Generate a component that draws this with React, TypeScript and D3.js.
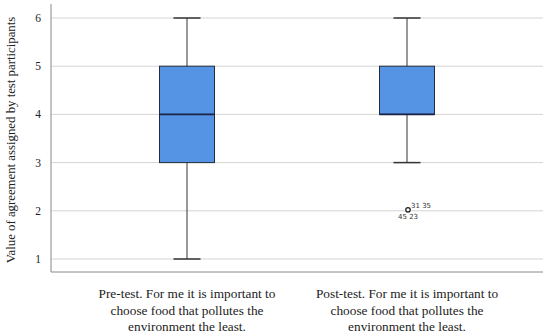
import React from "react";
import * as d3 from "d3";

const groups = [
  "Pre-test. For me it is important to|choose food that pollutes the|environment the least.",
  "Post-test. For me it is important to|choose food that pollutes the|environment the least.",
];
const whiskerLow = [1, 3];
const q1 = [3, 4];
const median = [4, 4];
const q3 = [5, 5];
const whiskerHigh = [6, 6];
const outlierValue = [null, 2];
const outlierLabelsTop = ["", "31 35"];
const outlierLabelsBottom = ["", "45 23"];
const yTicks = [1, 2, 3, 4, 5, 6];

const W = 550;
const H = 334;
const left = 51;
const right = 543;
const top = 4;
const bottom = 272;

export default function App() {
  const y = d3.scaleLinear().domain([1, 6]).range([259, 18]);
  const x = d3.scalePoint().domain(groups).range([187, 407]);
  const bw = 55;
  const cap = 27;
  const serif = "'Liberation Serif', 'DejaVu Serif', serif";

  return (
    <svg width={W} height={H} style={{ position: "absolute", left: 0, top: 0 }}>
      <rect width={W} height={H} fill="#fff" />
      {yTicks.map((t) => (
        <g key={t}>
          <line x1={left} x2={right} y1={y(t)} y2={y(t)} stroke="#d4d4d4" strokeWidth={1} />
          <text x={38} y={y(t)} dy="0.35em" textAnchor="middle" fontFamily={serif} fontSize={11.5} fill="#222">
            {t}
          </text>
        </g>
      ))}
      <line x1={left} x2={left} y1={top} y2={bottom} stroke="#888" strokeWidth={1} />
      <line x1={left} x2={right} y1={bottom} y2={bottom} stroke="#888" strokeWidth={1} />

      {groups.map((g, i) => {
        const cx = x(g)!;
        const x0 = cx - bw / 2;
        return (
          <g key={g}>
            <line x1={cx} x2={cx} y1={y(whiskerHigh[i])} y2={y(q3[i])} stroke="#333" strokeWidth={1} />
            <line x1={cx} x2={cx} y1={y(q1[i])} y2={y(whiskerLow[i])} stroke="#333" strokeWidth={1} />
            <line x1={cx - cap / 2} x2={cx + cap / 2} y1={y(whiskerHigh[i])} y2={y(whiskerHigh[i])} stroke="#333" strokeWidth={1.5} />
            <line x1={cx - cap / 2} x2={cx + cap / 2} y1={y(whiskerLow[i])} y2={y(whiskerLow[i])} stroke="#333" strokeWidth={1.5} />
            <rect x={x0} y={y(q3[i])} width={bw} height={y(q1[i]) - y(q3[i])} fill="#5594e4" stroke="#222c3a" strokeWidth={1} />
            <line x1={x0} x2={x0 + bw} y1={y(median[i])} y2={y(median[i])} stroke="#1a2346" strokeWidth={1.8} />
            {outlierValue[i] != null && (
              <g>
                <circle cx={cx + 1} cy={y(outlierValue[i] as number) - 1} r={2.2} fill="#fff" stroke="#222" strokeWidth={1.3} />
                <text x={cx + 4} y={y(outlierValue[i] as number) - 3} fontFamily="'DejaVu Sans', sans-serif" fontSize={7} fill="#333">
                  {outlierLabelsTop[i]}
                </text>
                <text x={cx - 9} y={y(outlierValue[i] as number) + 8} fontFamily="'DejaVu Sans', sans-serif" fontSize={7} fill="#333">
                  {outlierLabelsBottom[i]}
                </text>
              </g>
            )}
            <text textAnchor="middle" fontFamily={serif} fontSize={13.3} fill="#222">
              {g.split("|").map((line, j) => (
                <tspan key={j} x={cx} y={298 + j * 16.5}>
                  {line}
                </tspan>
              ))}
            </text>
          </g>
        );
      })}

      <text
        transform={`translate(15,${(top + bottom) / 2 + 2}) rotate(-90)`}
        textAnchor="middle"
        fontFamily={serif}
        fontSize={12.8}
        fill="#222"
      >
        Value of agreement assigned by test participants
      </text>
    </svg>
  );
}
